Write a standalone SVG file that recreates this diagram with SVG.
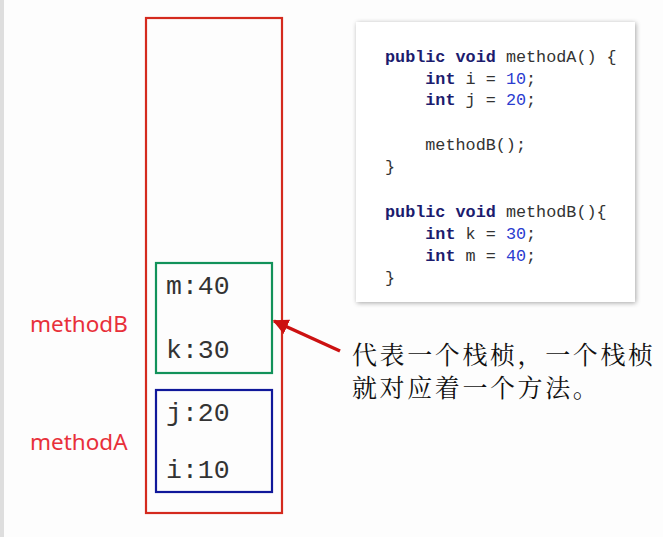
<svg xmlns="http://www.w3.org/2000/svg" width="663" height="537" viewBox="0 0 663 537">
<defs>
<filter id="sh" x="-10%" y="-10%" width="120%" height="120%">
<feGaussianBlur in="SourceAlpha" stdDeviation="2.5"/>
<feOffset dx="1" dy="1"/>
<feComponentTransfer><feFuncA type="linear" slope="0.35"/></feComponentTransfer>
<feMerge><feMergeNode/><feMergeNode in="SourceGraphic"/></feMerge>
</filter>
<marker id="ah" viewBox="0 0 10 10" refX="9" refY="5" markerWidth="4.5" markerHeight="4.5" orient="auto" markerUnits="strokeWidth">
<path d="M0,0 L10,5 L0,10 z" fill="#cc1111"/>
</marker>
</defs>
<style>
.mono{font-family:"Liberation Mono","DejaVu Sans Mono",monospace;font-size:26.5px;fill:#333}
.lbl{font-family:"Noto Sans","Liberation Sans",sans-serif;font-size:22.5px;fill:#e8303a}
.code{font-family:"Liberation Mono","DejaVu Sans Mono",monospace;font-size:16.8px;fill:#333}
.kw{font-weight:bold;fill:#1c1c6e}
.num{fill:#2a3ccf}
.cn{font-family:"Noto Serif CJK SC","Noto Sans CJK SC",serif;font-size:25px;letter-spacing:2.6px;fill:#111}
</style>
<rect x="0" y="0" width="663" height="537" fill="#fdfdfd"/>
<rect x="0" y="0" width="4" height="537" fill="#dedede"/>

<g id="stack">
<rect x="146" y="18" width="136" height="495" fill="none" stroke="#d42a1e" stroke-width="2.2"/>
</g>

<g id="frameB">
<rect x="156" y="263" width="116" height="110" fill="none" stroke="#12925a" stroke-width="2.2"/>
<text class="mono" x="166" y="294">m:40</text>
<text class="mono" x="166" y="358">k:30</text>
</g>

<g id="frameA">
<rect x="156" y="390" width="116" height="102" fill="none" stroke="#10189a" stroke-width="2.2"/>
<text class="mono" x="166" y="421">j:20</text>
<text class="mono" x="166" y="478">i:10</text>
</g>

<g id="labelB"><text class="lbl" x="30" y="332">methodB</text></g>
<g id="labelA"><text class="lbl" x="30" y="450">methodA</text></g>

<g id="code">
<rect x="356" y="22" width="279" height="280" fill="#ffffff" filter="url(#sh)"/>
<text class="code" x="385" y="62"><tspan class="kw">public</tspan> <tspan class="kw">void</tspan> methodA() {</text>
<text class="code" x="385" y="84" xml:space="preserve">    <tspan class="kw">int</tspan> i = <tspan class="num">10</tspan>;</text>
<text class="code" x="385" y="105" xml:space="preserve">    <tspan class="kw">int</tspan> j = <tspan class="num">20</tspan>;</text>
<text class="code" x="385" y="150" xml:space="preserve">    methodB();</text>
<text class="code" x="385" y="172">}</text>
<text class="code" x="385" y="217"><tspan class="kw">public</tspan> <tspan class="kw">void</tspan> methodB(){</text>
<text class="code" x="385" y="239" xml:space="preserve">    <tspan class="kw">int</tspan> k = <tspan class="num">30</tspan>;</text>
<text class="code" x="385" y="261" xml:space="preserve">    <tspan class="kw">int</tspan> m = <tspan class="num">40</tspan>;</text>
<text class="code" x="385" y="283">}</text>
</g>

<g id="note">
<text class="cn" x="352" y="364"><tspan x="352" y="364">代表一个栈桢，一个栈桢</tspan><tspan x="352" y="397">就对应着一个方法。</tspan></text>
</g>

<g id="connectors">
<line x1="340" y1="351" x2="274" y2="321" stroke="#cc1111" stroke-width="3.5" marker-end="url(#ah)"/>
</g>
</svg>
